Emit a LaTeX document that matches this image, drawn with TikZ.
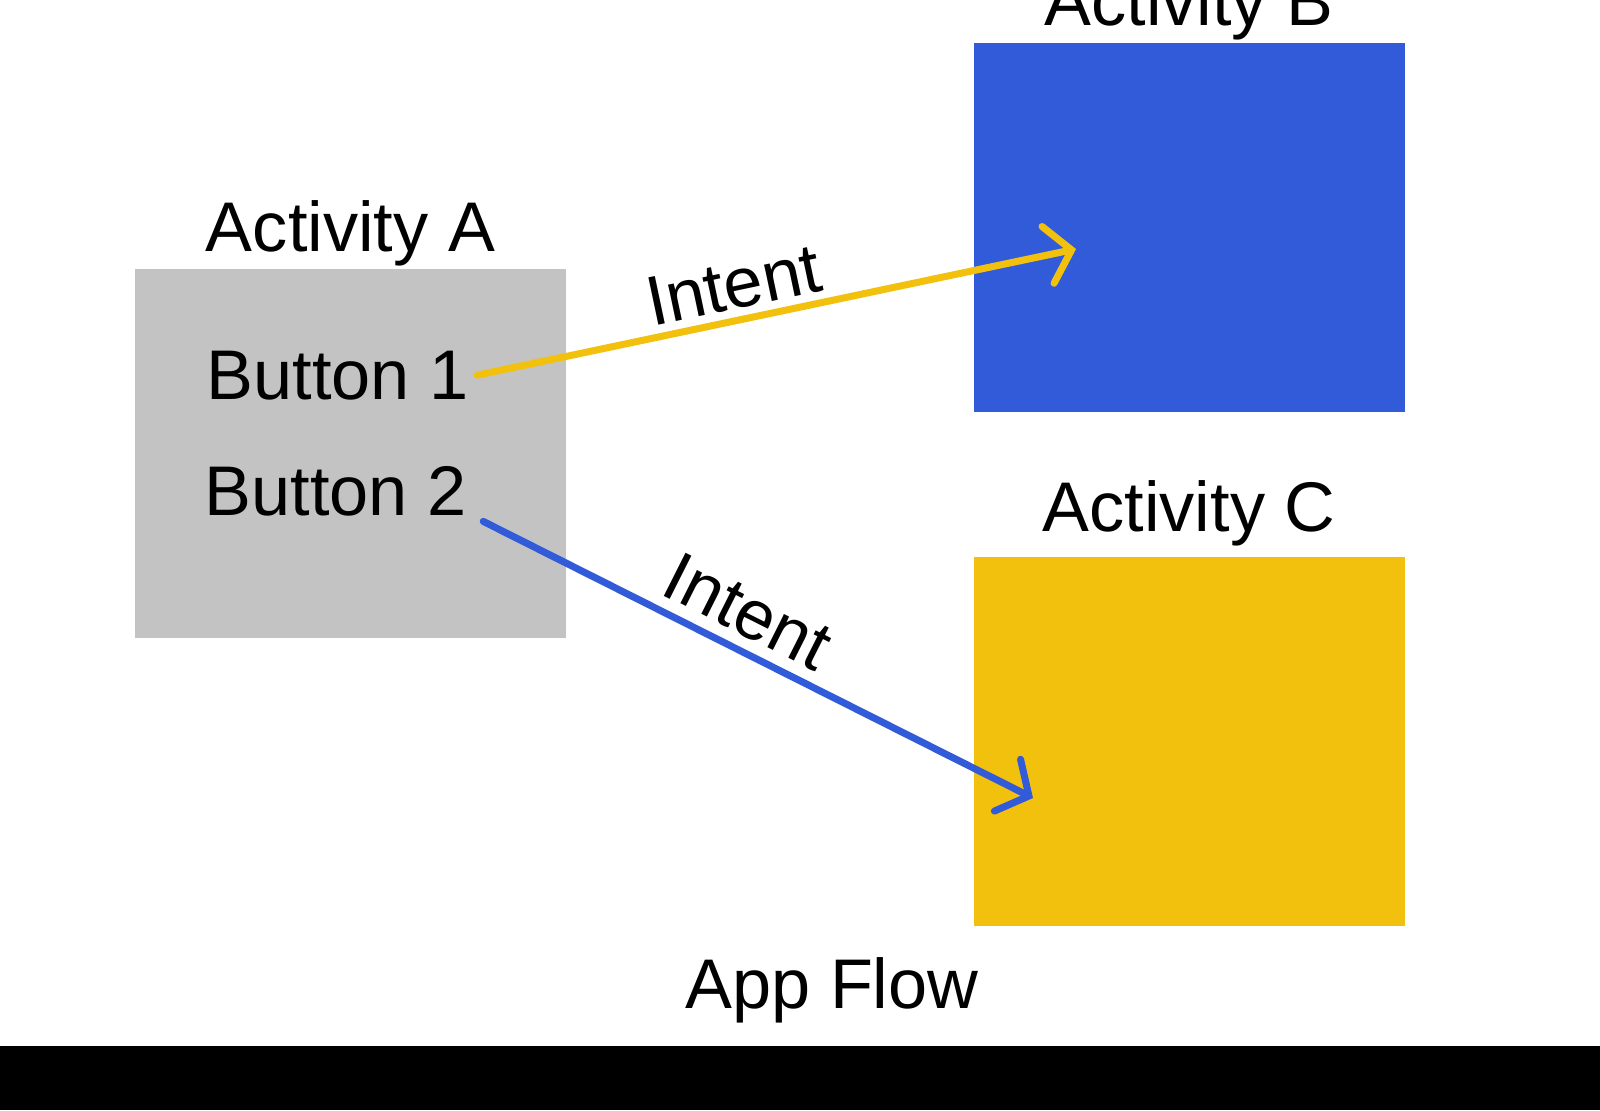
\documentclass[tikz,border=0pt]{standalone}
\usepackage{fontspec}
\setmainfont{Liberation Sans}
\usetikzlibrary{positioning,arrows.meta}
\definecolor{actgray}{HTML}{C3C3C3}
\definecolor{actblue}{HTML}{325BD9}
\definecolor{actyellow}{HTML}{F2C10E}

\begin{document}
\begin{tikzpicture}[font=\fontsize{20}{24}\selectfont,
    screen/.style={minimum width=4.31cm, minimum height=3.69cm, inner sep=0pt},
    label/.style={inner sep=0pt},
    intent/.style={line width=2pt, line cap=round,
      -{Straight Barb[length=2.4mm, width=5.8mm, line width=2pt, line cap=round]}}]
        \useasboundingbox (0,0) rectangle (16,11.1);

        % The three activities
        \node (boxA) [screen, fill=actgray] at (3.505,6.57) {};
        \node (boxB) [screen, fill=actblue] at (11.89,8.825) {};
        \node (boxC) [screen, fill=actyellow] at (11.89,3.69) {};

        \node (actA) [label, above=0.01 of boxA] {Activity A};
        \node (actB) [label, above=0.02 of boxB] {Activity B};
        \node (actC) [label, above=0.09 of boxC] {Activity C};

        % Buttons inside Activity A
        \node (btn1) [label, anchor=base west] at (2.06,7.11) {Button 1};
        \node (btn2) [label, anchor=base west] at (2.04,5.95) {Button 2};

        % Where the intents land
        \coordinate (tipB) at (10.76,8.61);
        \coordinate (tipC) at (10.33,3.12);

        \draw[intent, actyellow] ([xshift=0.08cm]btn1.east) -- (tipB)
            node[pos=0.44, above, sloped, inner sep=2pt, text=black] {Intent};
        \draw[intent, actblue] ([shift={(0.16,-0.05)}]btn2.south east) -- (tipC)
            node[pos=0.45, above, sloped, inner sep=3pt, text=black] {Intent};

        \node (title) [label, anchor=base] at (8.32,1.02) {App Flow};
        \fill[black] (0,0) rectangle (16,0.64);
      \end{tikzpicture}
\end{document}
